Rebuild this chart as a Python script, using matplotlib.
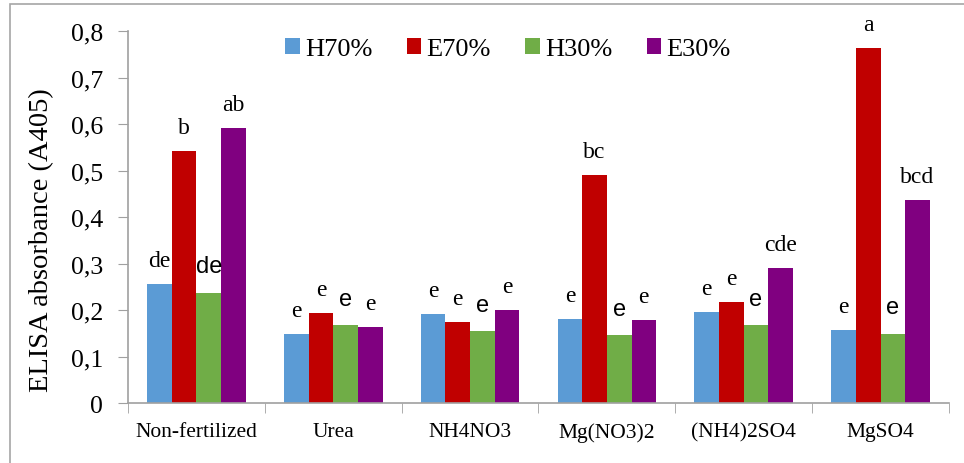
import numpy as np
import matplotlib.pyplot as plt
from matplotlib.patches import Rectangle

# Data
groups = ["Non-fertilized", "Urea", "NH4NO3", "Mg(NO3)2", "(NH4)2SO4", "MgSO4"]
series = ["H70%", "E70%", "H30%", "E30%"]
h70 = [0.256, 0.149, 0.191, 0.181, 0.196, 0.157]
e70 = [0.542, 0.194, 0.174, 0.490, 0.218, 0.763]
h30 = [0.237, 0.168, 0.154, 0.146, 0.168, 0.149]
e30 = [0.592, 0.164, 0.201, 0.179, 0.290, 0.437]

# significance letters
h70_letters = ["de", "e", "e", "e", "e", "e"]
e70_letters = ["b", "e", "e", "bc", "e", "a"]
h30_letters = ["de", "e", "e", "e", "e", "e"]
e30_letters = ["ab", "e", "e", "e", "cde", "bcd"]

colors = ["#5B9BD5", "#C00000", "#70AD47", "#800080"]
values = [h70, e70, h30, e30]
letters = [h70_letters, e70_letters, h30_letters, e30_letters]

plt.rcParams["font.family"] = "Liberation Serif"

fig = plt.figure(figsize=(9.64, 4.64), dpi=100)
ax = fig.add_axes([0.1328, 0.1293, 0.8516, 0.8017])

# outer frame
fig.patches.append(Rectangle((10 / 964, -0.05), 1.0, 1.05 - 5 / 464,
                             transform=fig.transFigure, fill=False,
                             edgecolor="#a6a6a6", linewidth=1.2))

x = np.arange(len(groups))
w = 0.18
for i, (vals, c, labs) in enumerate(zip(values, colors, letters)):
    pos = x + (i - 1.5) * w
    ax.bar(pos, vals, width=w, color=c, label=series[i])
    for px, v, t in zip(pos, vals, labs):
        if i == 2:
            ax.text(px, v + 0.033, t, ha="center", va="bottom",
                    fontsize=17, family="Liberation Sans", clip_on=False)
        else:
            ax.text(px, v + 0.028, t, ha="center", va="bottom",
                    fontsize=17, clip_on=False)

ax.set_xlim(-0.5, len(groups) - 0.5)
ax.set_ylim(0, 0.8)
ax.set_yticks(np.arange(0, 0.81, 0.1))
ax.set_yticklabels(["0" if v == 0 else f"{v:.1f}".replace(".", ",")
                    for v in np.arange(0, 0.81, 0.1)], fontsize=18.5)
ax.set_xticks(x)
ax.set_xticklabels(groups, fontsize=15.5)
ax.set_xticks(np.arange(-0.5, len(groups)), minor=True)
ax.tick_params(axis="x", which="major", length=0, pad=14)
ax.tick_params(axis="x", which="minor", length=7, color="#a0a0a0", direction="out")
ax.tick_params(axis="y", length=7, color="#a0a0a0", direction="out", pad=11)

for s in ["top", "right"]:
    ax.spines[s].set_visible(False)
for s in ["left", "bottom"]:
    ax.spines[s].set_color("#a0a0a0")
    ax.spines[s].set_linewidth(1.2)

ax.set_ylabel("ELISA absorbance (A405)", fontsize=20.5)
ax.yaxis.set_label_coords(-0.09, 0.44)

ax.legend(loc="center", bbox_to_anchor=(0.527, 0.892), bbox_transform=fig.transFigure,
          ncol=4, frameon=False, fontsize=19, handlelength=0.55, handleheight=0.55,
          handletextpad=0.2, columnspacing=1.3)

fig.savefig("out.png", dpi=100)
